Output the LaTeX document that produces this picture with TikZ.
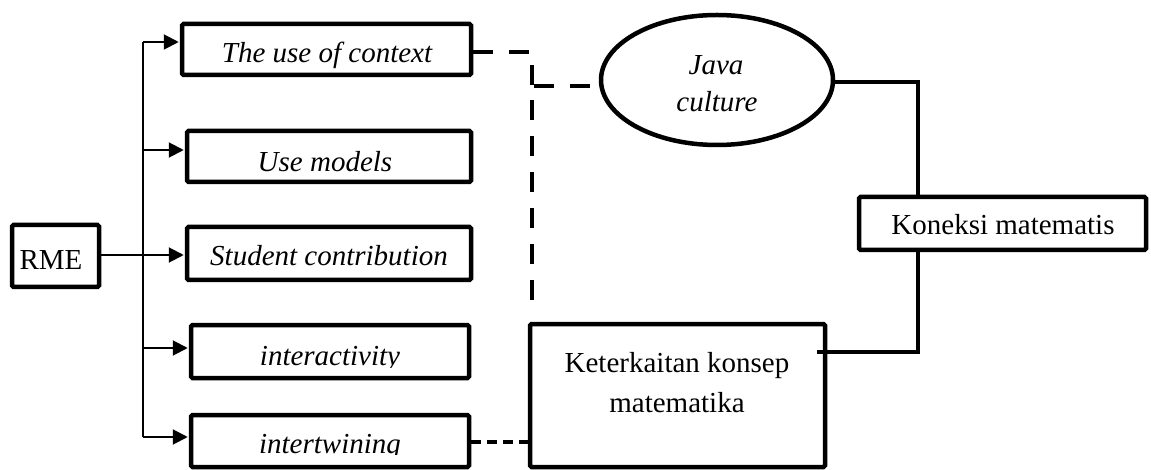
\documentclass[tikz,border=0pt]{standalone}
\usepackage{fontspec}
\setmainfont{Liberation Serif}
\usetikzlibrary{arrows.meta,shapes.geometric}
\begin{document}
\begin{tikzpicture}[x=1pt,y=-1pt,
  box/.style={draw, line width=4.5pt, rounded corners=1.5pt, inner sep=0pt},
  oval/.style={draw, ellipse, line width=4.5pt, inner sep=0pt},
  lbl/.style={anchor=base, inner sep=0pt, font=\fontsize{29}{34}\selectfont},
  itl/.style={anchor=base, inner sep=0pt, font=\fontsize{29}{34}\selectfont\itshape},
  feed/.style={line width=2pt, -{Triangle[length=15pt,width=15pt]}, shorten >=1pt},
  bus/.style={line width=2pt},
  link/.style={line width=4pt},
  dashlink/.style={line width=4.5pt, dash pattern=on 20pt off 16pt},
  shortdash/.style={line width=4.5pt, dash pattern=on 10pt off 6pt},
]
\useasboundingbox (0,0) rectangle (1151,470);

% RME principles
\node[box, minimum width=87pt, minimum height=62pt] (rme) at (55.5,256) {};
\node[box, minimum width=289pt, minimum height=51pt] (ctx) at (326.5,49.5) {};
\node[box, minimum width=284pt, minimum height=51pt] (mdl) at (329,156.5) {};
\node[box, minimum width=284pt, minimum height=53pt] (stu) at (329,253.5) {};
\node[box, minimum width=278pt, minimum height=53pt] (inter) at (330,351.5) {};
\node[box, minimum width=278pt, minimum height=52pt] (itw) at (330,441) {};

% right-hand concepts
\node[oval, minimum width=232pt, minimum height=130pt] (java) at (717,80) {};
\node[box, minimum width=287pt, minimum height=53pt] (kon) at (1002.5,223.5) {};
\node[box, minimum width=295pt, minimum height=143pt] (ket) at (677.5,395.5) {};

% labels
\node[lbl] (trme) at (51,270) {RME};
\node[itl] (tctx) at (327,63) {The use of context};
\node[itl] (tmdl) at (325,172) {Use models};
\node[itl] (tstu) at (329,266) {Student contribution};
\begin{scope}
  \clip (189,323) rectangle (471,367);
  \node[itl] (tint) at (330,365) {interactivity};
\end{scope}
\begin{scope}
  \clip (189,413) rectangle (471,454.5);
  \node[itl] (titw) at (330,453) {intertwining};
\end{scope}
\node[itl] (tjava) at (716,75) {Java};
\node[itl] (tcult) at (717,112) {culture};
\node[lbl] (tkon) at (1003,235) {Koneksi matematis};
\node[lbl] (tket1) at (677,372) {Keterkaitan konsep};
\node[lbl] (tket2) at (677,412) {matematika};

% bus from RME to the five principles
\coordinate (b1) at (143,42);
\coordinate (b2) at (143,150);
\coordinate (b3) at (143,255);
\coordinate (b4) at (143,348);
\coordinate (b5) at (143,437);
\draw[bus] (b1) -- (b5);
\draw[bus] (rme.east |- b3) -- (b3);
\foreach \b/\n in {b1/ctx,b2/mdl,b3/stu,b4/inter,b5/itw}
  \draw[feed] (\b) -- (\b -| \n.west);

% dashed links
\coordinate (d1) at (532,52);
\coordinate (d2) at (532,86);
\coordinate (d3) at (532,313);
\coordinate (k1) at (500,442);
\draw[dashlink] (ctx.east |- d1) -- (d1) -- (d2);
\draw[dashlink, dash phase=27pt] (java.west |- d2) -- (d2) -- (d3);
\draw[shortdash] (itw.east |- k1) -- (ket.west |- k1);

% solid links to Koneksi matematis
\coordinate (s1) at (918,82);
\coordinate (s2) at (918,352);
\coordinate (s3) at (817,352);
\draw[link] (java.east |- s1) -- (s1) -- (s1 |- kon.north);
\draw[link] (s2 |- kon.south) -- (s2) -- (s3);
\end{tikzpicture}
\end{document}
